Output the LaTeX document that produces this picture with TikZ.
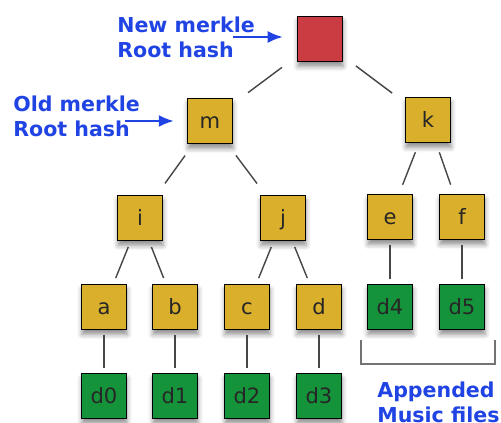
\documentclass[tikz,border=0pt]{standalone}
\usepackage{fontspec}
\setmainfont{DejaVu Sans}
\usepackage{tikz}
\usetikzlibrary{arrows.meta,shadows.blur}

\definecolor{hashgold}{RGB}{217,175,44}
\definecolor{rootred}{RGB}{203,59,66}
\definecolor{datagreen}{RGB}{21,147,58}
\definecolor{noteblue}{RGB}{32,68,228}
\definecolor{edgegray}{RGB}{70,70,70}

\begin{document}
\begin{tikzpicture}[x=0.02cm, y=-0.02cm, >={Latex[length=3mm,width=2.4mm]},
     hashbox/.style = {draw=black, line width=0.85pt, fill=hashgold,
        minimum size=0.9cm, inner sep=0pt, text height=8.5pt, text depth=0pt,
        text=black!85, font=\fontsize{12}{14}\selectfont,
        blur shadow={shadow xshift=0.3pt, shadow yshift=-2.8pt,
        shadow blur radius=2.8pt, shadow opacity=45}},
     databox/.style = {hashbox, fill=datagreen},
     branch/.style = {draw=edgegray, line width=0.8pt,
        shorten <=#1, shorten >=#1},
     branch/.default = 7pt,
     stem/.style = {draw=edgegray, line width=0.8pt,
        shorten <=2.5pt, shorten >=2.5pt},
     note/.style = {anchor=north west, inner sep=0pt, align=left,
        text=noteblue, font=\fontsize{11.7}{14.2}\selectfont\bfseries},
     pointer/.style = {->, draw=noteblue, fill=noteblue, line width=1.1pt},
     bracket/.style = {draw=black!55, line width=1pt}]
    \useasboundingbox (0,0) rectangle (501,423);

    % hashes
    \node [hashbox, fill=rootred] at (320,39) (root) {};
    \node [hashbox] at (210,121) (m) {m};
    \node [hashbox] at (428,120) (k) {k};
    \node [hashbox] at (140,218) (i) {i};
    \node [hashbox] at (283,218) (j) {j};
    \node [hashbox] at (390,217) (e) {e};
    \node [hashbox] at (462,217) (f) {f};
    \node [hashbox] at (104,307) (a) {a};
    \node [hashbox] at (175,307) (b) {b};
    \node [hashbox] at (247,307) (c) {c};
    \node [hashbox] at (319,307) (d) {d};

    % data blocks
    \node [databox] at (390,307) (d4) {d4};
    \node [databox] at (462,307) (d5) {d5};
    \node [databox] at (104,396) (d0) {d0};
    \node [databox] at (175,396) (d1) {d1};
    \node [databox] at (247,396) (d2) {d2};
    \node [databox] at (319,396) (d3) {d3};

    \draw [branch=10.5pt] (root) -- (m);
    \draw [branch=9pt] (root) -- (k);
    \draw [branch=8pt] (m) -- (i);
    \draw [branch=8pt] (m) -- (j);
    \draw [branch=5.5pt] (k) -- (e);
    \draw [branch=5.5pt] (k) -- (f);
    \draw [branch=3.5pt] (i) -- (a);
    \draw [branch=3.5pt] (i) -- (b);
    \draw [branch=3.5pt] (j) -- (c);
    \draw [branch=3.5pt] (j) -- (d);
    \draw [stem] (a) -- (d0);
    \draw [stem] (b) -- (d1);
    \draw [stem] (c) -- (d2);
    \draw [stem] (d) -- (d3);
    \draw [stem] (e) -- (d4);
    \draw [stem] (f) -- (d5);

    % labels
    \node [note] at (117,17) (newlbl) {New merkle\\Root hash};
    \node [note] at (13,96) (oldlbl) {Old merkle\\Root hash};
    \node [note] at (377,382) (musiclbl) {Appended\\Music files};

    \coordinate (newtail) at (233,37);
    \draw [pointer, shorten >=8pt] (newtail) -- (newtail -| root.west);
    \coordinate (oldtail) at (125,121);
    \draw [pointer, shorten >=7.4pt] (oldtail) -- (oldtail -| m.west);

    \coordinate (brl) at (361,340);
    \coordinate (brr) at (495,340);
    \draw [bracket] (brl) -- ++(0,24) -| (brr);
\end{tikzpicture}
\end{document}
